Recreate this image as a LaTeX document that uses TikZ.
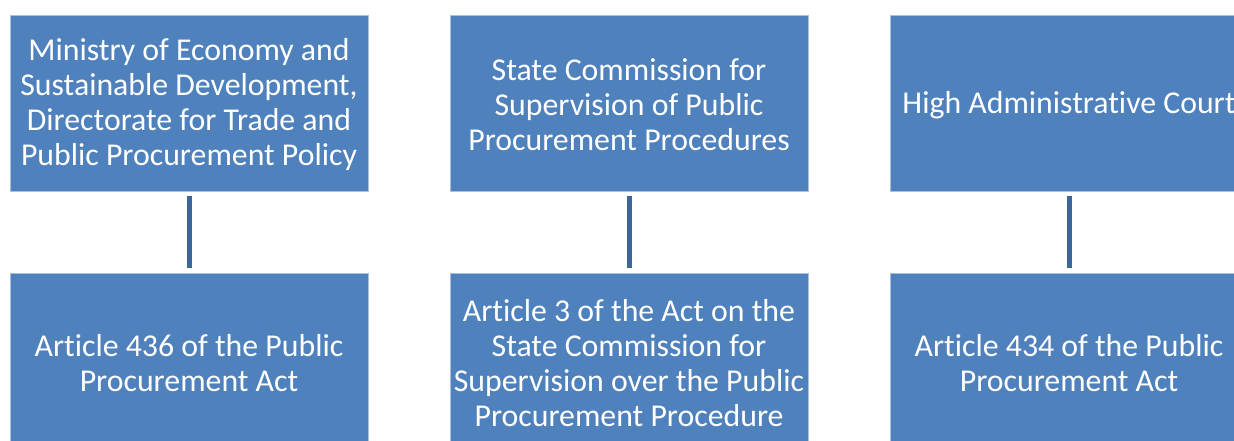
\documentclass[tikz,border=0pt]{standalone}
\usepackage{fontspec}
\setmainfont[Ligatures={NoCommon}]{Carlito}
\definecolor{boxfill}{HTML}{4F81BD}
\definecolor{boxedge}{HTML}{A9C1E0}
\definecolor{linkcol}{HTML}{3C6696}
\begin{document}
\begin{tikzpicture}[x=1pt,y=-1pt,
  orgbox/.style={rectangle, fill=boxfill, draw=boxedge, line width=0.8pt,
    minimum width=358pt, minimum height=176pt, inner sep=0pt},
  boxtext/.style={text=white, align=center, inner sep=0pt,
    font=\fontsize{31.8}{35}\selectfont},
  link/.style={draw=linkcol, line width=5pt, shorten <=5pt, shorten >=5pt}]
\useasboundingbox (0,0) rectangle (1234,441);
\clip (0,0) rectangle (1234,441);
% top row: bodies
\node[orgbox] (min) at (189,103) {};
\node[orgbox] (com) at (629,103) {};
\node[orgbox] (crt) at (1069,103) {};
% bottom row: legal bases
\node[orgbox] (a436) at (189,361) {};
\node[orgbox] (a3) at (629,361) {};
\node[orgbox] (a434) at (1069,361) {};
% box captions, set slightly below the geometric centre
\node[boxtext] (tmin) at ([yshift=-2pt]min.center) {Ministry of Economy and\\Sustainable Development,\\Directorate for Trade and\\Public Procurement Policy};
\node[boxtext] (tcom) at ([yshift=-2pt]com.center) {State Commission for\\Supervision of Public\\Procurement Procedures};
\node[boxtext] (tcrt) at ([yshift=-2pt]crt.center) {High Administrative Court};
\node[boxtext] (ta436) at ([yshift=-2pt]a436.center) {Article 436 of the Public\\Procurement Act};
\node[boxtext] (ta3) at ([yshift=-2pt]a3.center) {Article 3 of the Act on the\\State Commission for\\Supervision over the Public\\Procurement Procedure};
\node[boxtext] (ta434) at ([yshift=-2pt]a434.center) {Article 434 of the Public\\Procurement Act};
% links
\draw[link] (min.south) -- (a436.north);
\draw[link] (com.south) -- (a3.north);
\draw[link] (crt.south) -- (a434.north);
\end{tikzpicture}
\end{document}
